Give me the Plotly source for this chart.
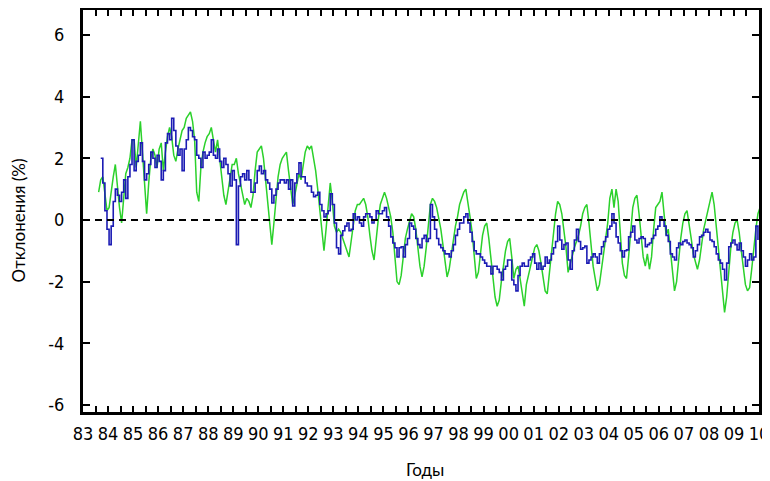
import plotly.graph_objects as go

# Tick labels (years 1983..2010 shown as two digits)
YEARS = list(range(1983, 2011))
YEAR_LABELS = [str(y)[-2:] for y in YEARS]
Y_TICKS = [-6, -4, -2, 0, 2, 4, 6]

# Monthly deviations (%), green series, starting Aug 1983
GREEN_START = (1983, 8)
GREEN = [
    0.9, 1.3, 1.4, 0.8, 0.3,                                        # 1983 Aug-Dec
    0.4, 1.0, 1.4, 1.8, 1.0, 0.4, -0.1, 0.6, 1.5, 1.7, 2.0, 2.6,     # 1984
    2.6, 1.7, 2.6, 3.2, 2.2, 1.0, 0.2, 1.2, 2.0, 2.3, 2.1, 1.7,      # 1985
    2.3, 2.5, 1.6, 2.2, 2.7, 3.0, 2.7, 2.1, 1.9, 2.3, 2.6, 2.9,      # 1986
    3.0, 3.3, 3.4, 3.5, 3.2, 2.6, 0.9, 0.6, 1.7, 2.2, 2.5, 2.7,      # 1987
    2.8, 3.0, 2.6, 2.2, 2.6, 2.0, 1.3, 0.8, 0.5, 0.9, 1.4, 1.8,      # 1988
    1.8, 2.0, 1.5, 1.2, 0.9, 0.5, 0.7, 0.6, 0.4, 0.8, 1.6, 2.2,      # 1989
    2.3, 2.4, 2.0, 1.3, 0.5, -0.3, -0.8, -0.1, 0.7, 1.4, 1.8, 2.0,   # 1990
    2.1, 2.2, 1.6, 1.0, 0.5, 0.8, 1.2, 1.5, 1.3, 1.8, 2.2, 2.4,      # 1991
    2.3, 2.4, 2.0, 1.6, 1.0, 0.3, -0.5, -1.0, -0.3, 0.5, 1.2, 0.6,   # 1992
    -0.2, -0.4, -0.3, -0.4, -0.6, -0.8, -1.0, -1.2, -0.7, -0.1, 0.3, 0.5,  # 1993
    0.5, 0.6, 0.7, 0.5, 0.1, -0.5, -1.0, -1.3, -0.6, 0.0, 0.5, 0.7,  # 1994
    0.9, 0.7, 0.4, 0.1, -0.4, -1.3, -2.0, -2.1, -1.8, -1.2, -0.6, -0.3,  # 1995
    0.0, 0.2, 0.1, -0.3, -0.9, -1.5, -1.85, -1.5, -0.9, -0.2, 0.5, 0.7,  # 1996
    0.6, 0.4, 0.1, -0.3, -0.8, -1.4, -1.85, -1.6, -1.1, -0.6, -0.2, 0.1,  # 1997
    0.5, 0.7, 0.9, 1.0, 0.6, 0.1, -0.4, -1.2, -1.9, -1.7, -1.0, -0.5,  # 1998
    -0.2, -0.1, -0.6, -1.3, -2.0, -2.5, -2.8, -2.6, -2.0, -1.5, -1.0, -0.7,  # 1999
    -0.6, -1.2, -1.9, -1.6, -1.5, -1.9, -2.4, -2.8, -2.1, -1.8, -1.4, -1.1,  # 2000
    -0.9, -0.8, -1.0, -1.4, -1.9, -2.3, -2.4, -1.7, -1.1, -0.5, 0.2, 0.6,  # 2001
    0.5, 0.2, -0.3, -0.9, -1.7, -1.4, -1.2, -0.9, -0.7, -0.5, -0.2, 0.2,  # 2002
    0.4, 0.5, -0.1, -0.9, -1.5, -1.9, -2.3, -2.1, -1.6, -1.1, -0.6, -0.1,  # 2003
    0.7, 1.0, 0.4, 1.0, 0.6, -0.6, -1.4, -1.8, -1.9, -1.2, -0.3, 0.4,  # 2004
    0.7, 0.8, 0.2, -0.6, -1.2, -1.5, -1.1, -1.6, -1.2, -0.3, 0.4, 0.5,  # 2005
    0.6, 0.9, 0.3, -0.5, -0.3, -1.0, -1.8, -2.3, -2.0, -1.2, -0.6, -0.1,  # 2006
    0.2, 0.3, -0.1, -0.6, -1.1, -1.4, -1.6, -1.3, -0.7, -0.3, 0.0, 0.3,  # 2007
    0.6, 0.9, 0.5, -0.3, -0.9, -1.6, -2.3, -3.0, -2.5, -1.6, -0.9, -0.4,  # 2008
    -0.1, 0.0, -0.4, -1.0, -1.6, -2.1, -2.3, -2.2, -1.6, -0.9, -0.3, 0.2,  # 2009
    0.4,                                                             # 2010 Jan
]

# Monthly deviations (%), blue series, starting Sep 1983
BLUE_START = (1983, 9)
BLUE = [
    2.0, 1.2, 0.3, -0.3,                                             # 1983 Sep-Dec
    -0.8, -0.2, 0.6, 1.0, 0.8, 0.6, 0.9, 1.3, 0.7, 1.4, 1.8, 2.6,    # 1984
    1.6, 1.9, 2.1, 2.5, 1.9, 1.3, 1.5, 1.8, 2.2, 2.0, 1.7, 2.1,      # 1985
    1.9, 1.3, 1.6, 2.5, 2.8, 2.6, 3.3, 2.9, 2.4, 2.1, 2.3, 1.6,      # 1986
    2.3, 2.6, 3.0, 2.9, 2.7, 2.6, 2.1, 2.0, 1.7, 2.2, 2.0, 2.1,      # 1987
    2.2, 2.6, 2.1, 2.0, 2.3, 1.9, 1.7, 2.0, 1.8, 1.5, 1.1, 1.6,      # 1988
    1.3, -0.8, 1.1, 1.4, 1.5, 1.3, 1.6, 1.3, 0.9, 0.9, 1.2, 1.6,     # 1989
    1.75, 1.5, 1.6, 1.3, 1.2, 1.0, 0.55, 0.8, 1.0, 1.2, 1.3, 1.3,    # 1990
    1.2, 1.3, 1.0, 1.3, 0.45, 1.2, 1.5, 1.85, 1.4, 1.4, 1.2, 1.1,    # 1991
    1.1, 0.9, 0.75, 0.8, 0.9, 0.5, 0.3, 0.1, 0.2, 0.3, 0.85, 0.5,    # 1992
    -0.1, -0.9, -1.1, -0.5, -0.35, -0.2, -0.1, -0.35, -0.3, 0.2, 0.0, 0.1,  # 1993
    -0.1, -0.2, 0.1, 0.2, 0.2, 0.1, -0.1, 0.0, 0.3, 0.2, 0.2, 0.3,   # 1994
    0.4, 0.1, -0.2, -0.55, -0.75, -0.9, -1.2, -0.9, -0.87, -1.2, -0.8, -0.6,  # 1995
    -0.1, -0.2, -0.3, -0.6, -0.8, -0.9, -0.6, -0.5, -0.7, -0.6, 0.5, 0.1,  # 1996
    -0.3, -0.6, -0.8, -0.9, -1.0, -1.1, -1.1, -1.2, -1.0, -0.8, -0.5, -0.3,  # 1997
    -0.1, -0.1, 0.1, 0.2, -0.1, -0.4, -0.7, -1.0, -1.1, -1.1, -1.2, -1.3,  # 1998
    -1.4, -1.5, -1.5, -1.75, -1.5, -1.5, -1.6, -1.7, -1.95, -1.6, -1.5, -1.3,  # 1999
    -1.3, -1.95, -2.1, -2.3, -1.8, -1.5, -1.4, -1.5, -1.5, -1.3, -1.2, -1.1,  # 2000
    -1.4, -1.6, -1.4, -1.6, -1.5, -1.2, -1.4, -1.3, -1.1, -0.9, -0.7, -0.2,  # 2001
    -0.65, -0.95, -0.8, -0.75, -1.3, -1.6, -1.0, -0.65, -0.3, -0.7, -0.95, -0.9,  # 2002
    -0.85, -1.4, -1.3, -1.2, -1.1, -1.2, -1.4, -1.1, -0.87, -0.7, -0.55, -0.3,  # 2003
    -0.2, 0.2, -0.1, -0.55, -0.75, -1.0, -1.2, -1.0, -0.97, -0.55, -0.4, -0.2,  # 2004
    -0.65, -0.75, -0.6, -0.55, -0.6, -0.87, -0.8, -0.75, -0.6, -0.5, -0.3, -0.2,  # 2005
    0.1, 0.0, -0.2, -0.5, -0.7, -1.1, -1.2, -1.3, -0.9, -0.75, -0.8, -0.7,  # 2006
    -0.65, -0.75, -0.8, -0.9, -1.2, -1.0, -0.8, -0.55, -0.5, -0.4, -0.3, -0.4,  # 2007
    -0.65, -0.7, -0.87, -1.1, -1.3, -1.4, -1.6, -1.95, -1.4, -0.87, -0.75, -0.65,  # 2008
    -0.8, -0.97, -0.75, -1.0, -1.2, -1.5, -1.3, -1.1, -1.3, -1.2, -0.2, -0.65,  # 2009
]


def month_axis(start, n):
    y0, m0 = start
    return [y0 + (m0 - 1 + i + 0.5) / 12.0 for i in range(n)]


green_x = month_axis(GREEN_START, len(GREEN))
blue_x = month_axis(BLUE_START, len(BLUE))

tick_font = dict(family="Liberation Sans Narrow, DejaVu Sans Condensed, Arial Narrow, sans-serif",
                 size=18, color="black")
title_font = dict(family="Lato, Open Sans, sans-serif", size=17, color="black")

fig = go.Figure()
fig.add_trace(go.Scatter(x=green_x, y=GREEN, mode="lines",
                         line=dict(color="#2bd12b", width=1.5),
                         showlegend=False, hoverinfo="skip"))
fig.add_trace(go.Scatter(x=blue_x, y=BLUE, mode="lines",
                         line=dict(color="#1c1cb4", width=1.6, shape="hv"),
                         showlegend=False, hoverinfo="skip"))

fig.add_shape(type="line", xref="paper", yref="y", x0=0, x1=1, y0=0, y1=0,
              line=dict(color="black", width=2, dash="7px,5px"), layer="above")

fig.update_layout(
    width=762, height=473,
    margin=dict(l=75, r=11, t=2, b=69),
    paper_bgcolor="white", plot_bgcolor="white",
    xaxis=dict(
        range=[1983, 2010], tickmode="array", tickvals=YEARS, ticktext=YEAR_LABELS,
        tickangle=0, automargin=False,
        ticks="inside", ticklen=6, tickwidth=2, tickcolor="black",
        minor=dict(tick0=1983.5, dtick=1, ticks="inside", ticklen=6, tickwidth=2, tickcolor="black"),
        showline=True, linewidth=3, linecolor="black", mirror="ticks",
        showgrid=False, zeroline=False, tickfont=tick_font, ticklabelstandoff=3,
    ),
    yaxis=dict(
        range=[-6.23, 6.81], tickmode="array", tickvals=Y_TICKS, ticktext=[str(v) for v in Y_TICKS],
        automargin=False,
        ticks="inside", ticklen=7, tickwidth=2, tickcolor="black",
        showline=True, linewidth=3, linecolor="black", mirror="ticks",
        showgrid=False, zeroline=False, tickfont=tick_font, ticklabelstandoff=12,
    ),
    annotations=[
        dict(text="Отклонения (%)", xref="paper", yref="paper", x=-0.0955, y=0.4776,
             textangle=-90, showarrow=False, font=title_font, xanchor="center", yanchor="middle",
             borderpad=0),
        dict(text="Годы", xref="paper", yref="paper", x=0.506, y=-0.144,
             showarrow=False, font=title_font, xanchor="center", yanchor="middle"),
    ],
)

fig.write_html("out.html")
